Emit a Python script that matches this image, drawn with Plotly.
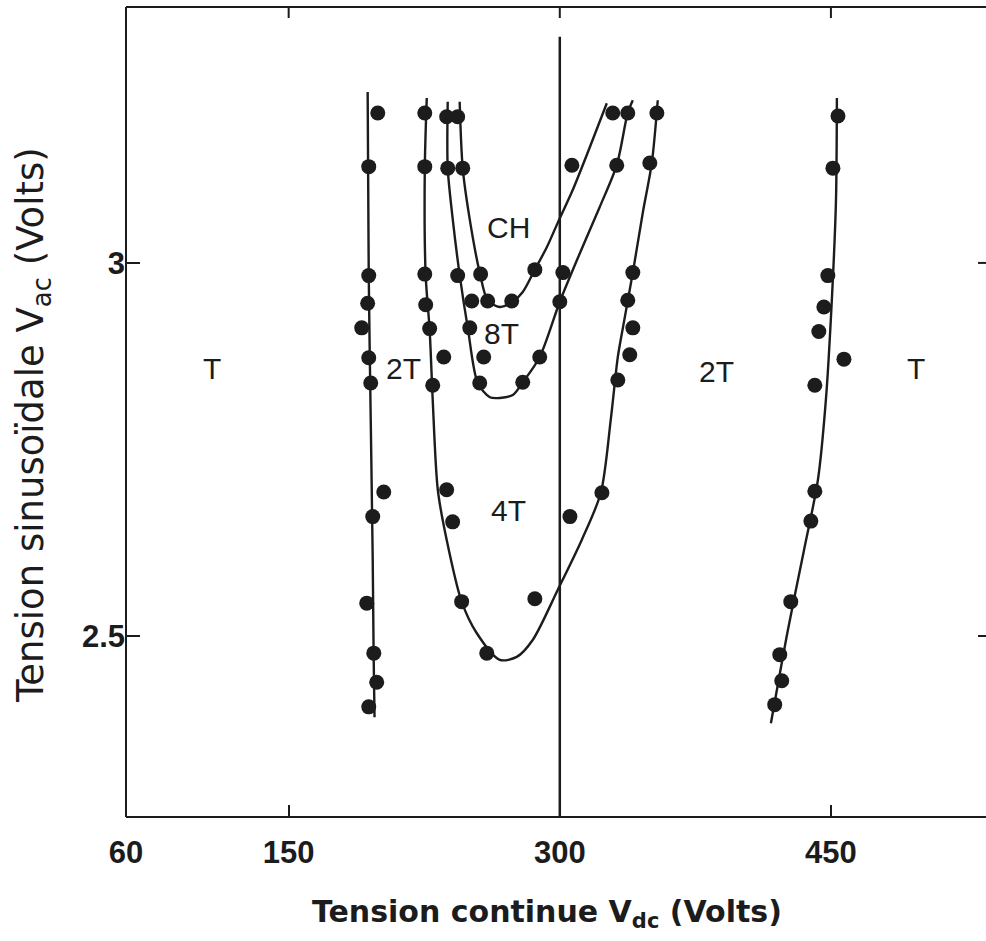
import plotly.graph_objects as go

# ---------------- data ----------------
# measured points, one group per boundary curve
left_x = [199.3, 194.3, 194.3, 193.7, 190.4, 194.3, 195.4, 202.6, 196.5, 193.2, 197.1, 198.7, 194.3]
left_y = [3.201, 3.129, 2.983, 2.946, 2.913, 2.873, 2.839, 2.693, 2.660, 2.544, 2.477, 2.438, 2.405]

t4_x = [225.3, 225.3, 225.3, 225.8, 228.0, 235.8, 229.7, 237.4, 240.7, 245.7, 259.6, 286.2, 305.6,
        323.3, 332.1, 338.7, 340.4, 337.6, 340.4, 349.8, 353.7]
t4_y = [3.201, 3.129, 2.985, 2.944, 2.912, 2.874, 2.836, 2.696, 2.653, 2.546, 2.477, 2.550, 2.660,
        2.692, 2.843, 2.877, 2.913, 2.950, 2.987, 3.134, 3.201]

t8_x = [237.4, 238.0, 243.5, 250.2, 257.9, 255.7, 279.5, 288.9, 300.0, 331.5, 337.6]
t8_y = [3.196, 3.127, 2.983, 2.913, 2.874, 2.839, 2.840, 2.874, 2.948, 3.131, 3.201]

ch_x = [243.5, 246.3, 256.2, 251.3, 260.1, 273.4, 286.2, 301.7, 306.7, 329.3]
ch_y = [3.196, 3.127, 2.985, 2.949, 2.949, 2.949, 2.991, 2.987, 3.131, 3.201]

right_x = [453.9, 451.1, 448.3, 446.1, 443.3, 457.2, 441.1, 441.1, 438.9, 427.8, 421.7, 422.8, 418.9]
right_y = [3.197, 3.127, 2.983, 2.941, 2.908, 2.871, 2.836, 2.694, 2.654, 2.546, 2.475, 2.440, 2.408]

# hand-drawn boundary curves
left_curve_x = [193.7, 194.3, 195.4, 196.5, 197.0, 197.5]
left_curve_y = [3.229, 2.983, 2.790, 2.602, 2.475, 2.391]

t4_curve_x = [226.4, 225.3, 225.8, 228.0, 229.7, 232.5, 237.4, 245.7, 254.0, 266.8, 276.2, 285.1,
              298.9, 312.2, 322.7, 328.2, 332.1, 334.9, 340.4, 345.9, 350.9, 354.2]
t4_curve_y = [3.221, 3.125, 2.983, 2.910, 2.816, 2.696, 2.629, 2.546, 2.504, 2.468, 2.472, 2.495,
              2.562, 2.629, 2.692, 2.790, 2.874, 2.913, 2.987, 3.067, 3.134, 3.218]

t8_curve_x = [238.0, 238.0, 240.8, 244.6, 249.1, 254.6, 261.3, 266.8, 274.0, 279.5, 288.9, 300.0,
              311.1, 322.1, 331.5, 337.6, 340.4]
t8_curve_y = [3.216, 3.127, 3.058, 2.984, 2.913, 2.839, 2.820, 2.819, 2.823, 2.840, 2.874, 2.948,
              3.013, 3.075, 3.131, 3.201, 3.218]

ch_curve_x = [244.6, 246.3, 250.2, 255.7, 260.1, 266.8, 274.0, 279.5, 286.2, 292.8, 298.9, 307.2,
              316.6, 326.0]
ch_curve_y = [3.216, 3.127, 3.058, 2.987, 2.950, 2.941, 2.948, 2.961, 2.991, 3.021, 3.054, 3.098,
              3.155, 3.214]

right_curve_x = [453.3, 452.8, 450.5, 447.2, 442.8, 435.1, 426.2, 416.8]
right_curve_y = [3.221, 3.084, 2.950, 2.816, 2.709, 2.615, 2.508, 2.383]

# vertical reference line at Vdc = 300 V
ref_x = [300, 300]
ref_y = [2.2574, 3.303]

# region labels
region_text = ["T", "2T", "CH", "8T", "4T", "2T", "T"]
region_x = [107.4, 213.6, 271.8, 267.9, 271.8, 386.8, 497.0]
region_y = [2.859, 2.858, 3.047, 2.906, 2.668, 2.854, 2.859]

x_ticks = [60, 150, 300, 450]
y_ticks = [2.5, 3]
x_range = [60, 535.8]
y_range = [2.2574, 3.343]

# ---------------- figure ----------------
INK = "#1c1c1c"
W, H = 986, 941
ML, MR, MT, MB = 126, 0, 7, 124
PW, PH = W - ML - MR, H - MT - MB

fig = go.Figure()

curves = [(left_curve_x, left_curve_y), (t4_curve_x, t4_curve_y), (t8_curve_x, t8_curve_y),
          (ch_curve_x, ch_curve_y), (right_curve_x, right_curve_y)]
for cx, cy in curves:
    fig.add_trace(go.Scatter(x=cx, y=cy, mode="lines",
                             line=dict(color=INK, width=2.4, shape="spline", smoothing=0.8),
                             showlegend=False, hoverinfo="skip"))

fig.add_trace(go.Scatter(x=ref_x, y=ref_y, mode="lines", line=dict(color=INK, width=2.5),
                         showlegend=False, hoverinfo="skip"))

for px, py in [(left_x, left_y), (t4_x, t4_y), (t8_x, t8_y), (ch_x, ch_y), (right_x, right_y)]:
    fig.add_trace(go.Scatter(x=px, y=py, mode="markers",
                             marker=dict(color=INK, size=15, line=dict(width=0)),
                             showlegend=False))

for t, x, y in zip(region_text, region_x, region_y):
    fig.add_annotation(x=x, y=y, text=t, showarrow=False,
                       font=dict(family="Liberation Sans, Arial, sans-serif", size=30, color=INK))

# axis titles placed where the reference has them
fig.add_annotation(xref="paper", yref="paper", x=(547 - ML) / PW, y=(H - MB - 913) / PH,
                   text="Tension continue V<sub>dc</sub> (Volts)", showarrow=False,
                   xanchor="center", yanchor="middle",
                   font=dict(family="DejaVu Sans, sans-serif", size=30, weight="bold", color=INK))
fig.add_annotation(xref="paper", yref="paper", x=(33 - ML) / PW, y=(H - MB - 425) / PH,
                   text="Tension sinusoïdale V<sub>ac</sub> (Volts)", showarrow=False, textangle=-90,
                   xanchor="center", yanchor="middle",
                   font=dict(family="DejaVu Sans, sans-serif", size=37, color=INK))

# frame: left, bottom and top edges (the right edge lies just outside the picture)
frame = dict(color=INK, width=2)
fig.add_shape(type="line", xref="paper", yref="paper", x0=0, x1=0, y0=0, y1=1, line=frame)
fig.add_shape(type="line", xref="paper", yref="paper", x0=0, x1=1, y0=0, y1=0, line=frame)
fig.add_shape(type="line", xref="paper", yref="paper", x0=0, x1=1, y0=1, y1=1, line=frame)
# mirrored tick marks on the top and right edges
for xv in x_ticks[1:]:
    fig.add_shape(type="line", xref="x", yref="paper", x0=xv, x1=xv, y0=1, y1=1 - 11 / PH, line=frame)
for yv in y_ticks:
    fig.add_shape(type="line", xref="paper", yref="y", x0=1 - 8 / PW, x1=1, y0=yv, y1=yv, line=frame)

fig.update_layout(
    template="none",
    width=W, height=H,
    margin=dict(l=ML, r=MR, t=MT, b=MB),
    plot_bgcolor="white", paper_bgcolor="white",
    font=dict(family="Liberation Sans, Arial, sans-serif", color=INK),
)
fig.update_xaxes(
    range=x_range, tickvals=x_ticks, ticktext=[str(v) for v in x_ticks],
    showgrid=False, zeroline=False, showline=False,
    ticks="inside", ticklen=12, tickwidth=2, tickcolor=INK, ticklabelstandoff=14,
    tickfont=dict(family="Liberation Sans, Arial, sans-serif", size=31, weight="bold", color=INK),
)
fig.update_yaxes(
    range=y_range, tickvals=y_ticks, ticktext=["2.5", "3"],
    showgrid=False, zeroline=False, showline=False,
    ticks="inside", ticklen=14, tickwidth=2, tickcolor=INK,
    tickfont=dict(family="Liberation Sans, Arial, sans-serif", size=31, weight="bold", color=INK),
)

fig.write_html("out.html")
